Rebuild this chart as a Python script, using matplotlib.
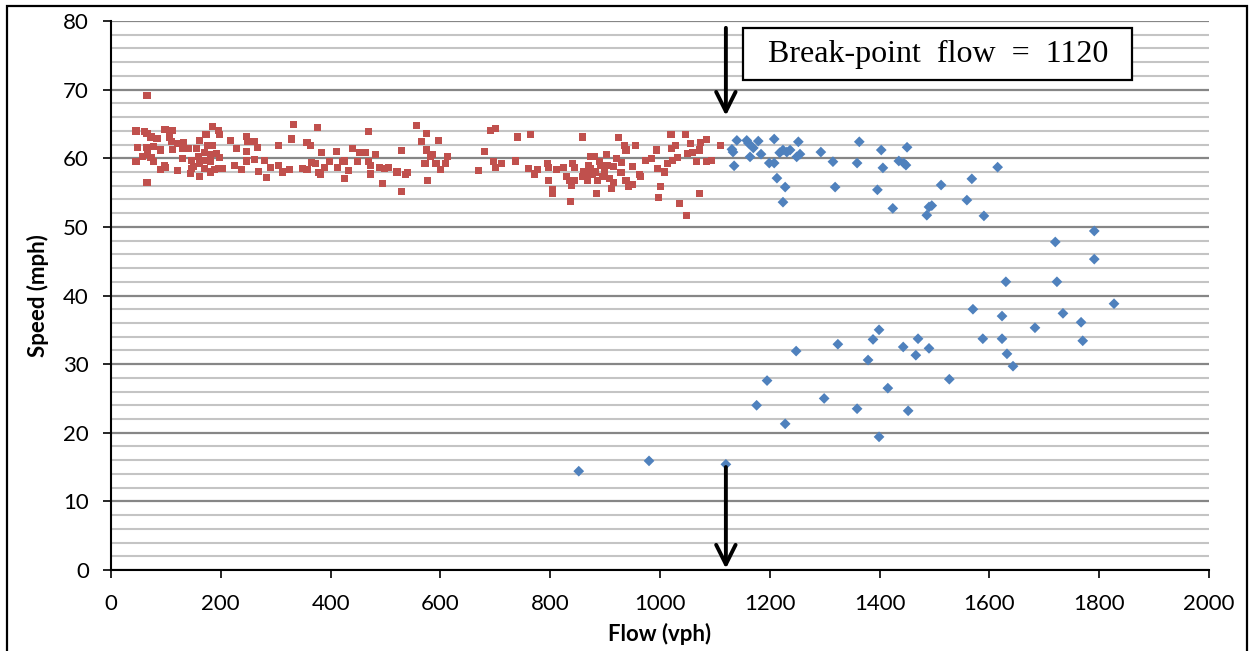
import matplotlib
matplotlib.use("Agg")
import matplotlib.pyplot as plt
from matplotlib.patches import Rectangle

# Uncongested (red) observations: flow (vph), speed (mph)
red_flow = [65.6, 45.5, 60.7, 65.6, 72.8, 83.8, 98.3, 112, 106, 48.6, 65.6, 77.7, 91, 111, 112, 121, 132, 130,
            141, 155, 161, 173, 185, 195, 197, 176, 185, 45.5, 57.7, 66.8, 72.8, 77.7, 97, 90, 100, 121, 146, 146,
            144, 159, 161, 161, 170, 170, 181, 182, 182, 193, 197, 195, 203, 65.6, 217, 228, 246, 249, 246, 261,
            267, 246, 261, 279, 225, 237, 268, 284,
            291, 305, 305, 313, 325, 329, 333, 349, 357, 357, 364, 365, 373, 376, 378, 382, 384, 389, 398, 410,
            413, 422, 426, 425, 433, 440, 449, 452, 464, 469, 469, 472, 472, 481, 489, 498, 505, 494, 521, 529,
            529, 537, 540, 557, 565, 575, 575, 572, 577, 582,
            596, 586, 592, 601, 610, 613, 669, 680, 692, 701, 697, 701, 712, 737, 741, 764, 760, 772, 777,
            795, 797, 797, 805, 805, 812, 825, 829, 837, 841, 845, 835, 838, 844, 859, 859, 865, 868, 871,
            874, 880, 874, 877, 883, 886, 885, 892, 896, 899, 903, 908, 912, 916, 920, 924, 929, 935, 938, 938,
            942, 950, 950, 956, 962, 965, 974, 984, 993, 996, 997, 1001, 1009, 1013, 1020, 1021, 1023, 1029,
            1032, 1035, 1047, 1049, 1050, 1055, 1059, 1067, 1072, 1073, 1072, 1084, 1084, 1093, 1111,
            130, 150, 170, 188, 860, 870, 890, 905, 915, 930]
red_speed = [69.1, 63.97, 63.9, 63.6, 63.1, 62.9, 64.2, 64.0, 63.1, 61.6, 61.6, 61.7, 61.2, 62.4, 61.3, 62.2,
             62.3, 61.4, 61.4, 61.4, 62.6, 63.5, 64.6, 64.1, 63.4, 61.9, 61.9, 59.5, 60.2, 60.5, 60.1, 59.5,
             59.0, 58.4, 58.7, 58.2, 59.7, 58.5, 57.8, 60.3, 59.3, 57.4, 59.7, 58.5, 60.5, 59.5, 58.0, 60.7,
             60.1, 58.5, 58.5, 56.5, 62.6, 61.4, 63.2, 62.4, 61.0, 62.4, 61.5, 59.6, 59.8, 59.7, 58.9, 58.4,
             58.1, 57.2,
             58.7, 61.8, 59.0, 58.0, 58.4, 62.8, 64.9, 58.5, 62.3, 58.4, 61.8, 59.4, 59.2, 64.5, 57.9, 57.7,
             60.8, 58.7, 59.5, 61.0, 58.7, 59.5, 59.6, 57.1, 58.2, 61.4, 59.5, 60.8, 60.8, 63.9, 59.5, 59.0,
             57.7, 60.5, 58.7, 58.5, 58.7, 56.3, 58.0, 61.1, 55.1, 57.6, 57.9, 64.8, 62.4, 63.6, 61.2, 59.3,
             56.8, 60.3,
             62.6, 60.5, 59.3, 58.3, 59.3, 60.2, 58.2, 61.0, 64.1, 64.4, 59.5, 58.7, 59.2, 59.6, 63.1, 63.4,
             58.5, 57.7, 58.4, 59.2, 58.7, 56.8, 55.4, 54.9, 58.4, 58.7, 57.4, 53.7, 59.2, 58.7, 56.8, 56.1,
             56.8, 63.1, 57.3, 57.8, 56.8, 57.6,
             60.2, 60.3, 58.5, 57.6, 58.0, 56.8, 54.9, 58.9, 57.3, 58.0, 60.5, 57.1, 55.6, 58.8, 60.0, 63.0,
             57.9, 61.9, 61.2, 56.8, 55.9, 58.8, 56.2, 61.9, 57.6, 57.3, 59.7, 60.0, 61.2, 58.5, 54.3, 55.9,
             58.0, 59.3, 63.5, 61.4, 59.7, 61.9, 60.1, 53.4, 63.4, 51.7, 60.7, 62.1, 60.9, 59.5, 61.2, 62.3,
             54.9, 62.7, 59.5, 59.7, 61.8,
             60.0, 58.8, 60.8, 58.3, 58.0, 59.0, 59.5, 59.0, 56.5, 59.4]

# Congested / above break-point (blue) observations
blue_flow = [1140, 1158, 1161, 1179, 1208, 1131, 1133, 1170, 1164, 1184, 1135, 1199, 1208, 1213, 1228, 1224,
             1218, 1224, 1231, 1237, 1252, 1249, 1255, 1293, 1315, 1319, 1363, 1359, 1403, 1406, 1396, 1424,
             1435, 1448, 1450, 1444, 1512, 1490, 1495, 1486, 1559, 1568, 1590, 1615,
             1791, 1720, 1791, 1630, 1723, 1827, 1623, 1734, 1767, 1683, 1623, 1770, 1632, 1643,
             852, 980, 1120, 1176, 1195, 1228, 1248, 1299, 1324, 1359, 1379, 1388, 1399, 1399, 1415, 1443,
             1452, 1470, 1466, 1490, 1527, 1570, 1588]
blue_speed = [62.6, 62.6, 62.2, 62.5, 62.8, 61.3, 60.9, 61.5, 60.2, 60.6, 58.9, 59.3, 59.3, 57.1, 55.8, 53.6,
              60.8, 61.2, 60.9, 61.2, 62.4, 60.2, 60.6, 60.9, 59.5, 55.8, 62.4, 59.3, 61.2, 58.6, 55.4, 52.7,
              59.6, 59.0, 61.6, 59.3, 56.1, 52.9, 53.1, 51.7, 53.9, 57.0, 51.6, 58.7,
              49.4, 47.8, 45.3, 42.0, 42.0, 38.8, 37.0, 37.4, 36.1, 35.3, 33.7, 33.4, 31.5, 29.7,
              14.4, 15.9, 15.4, 24.0, 27.6, 21.3, 31.9, 25.0, 32.9, 23.5, 30.6, 33.6, 35.0, 19.4, 26.5, 32.5,
              23.2, 33.7, 31.3, 32.3, 27.8, 38.0, 33.7]

x_ticks = [0, 200, 400, 600, 800, 1000, 1200, 1400, 1600, 1800, 2000]
y_ticks = [0, 10, 20, 30, 40, 50, 60, 70, 80]
break_point = 1120
label_text = "Break-point  flow  =  1120"

RED = "#C0504D"
BLUE = "#4F81BD"
SANS = ["Lato", "DejaVu Sans"]

fig = plt.figure(figsize=(12.53, 6.51), dpi=100)
ax = fig.add_axes([111 / 1253, 81 / 651, 1098 / 1253, 549 / 651])

ax.set_xlim(0, 2000)
ax.set_ylim(0, 80)
ax.set_yticks(y_ticks)
ax.set_yticks(range(0, 81, 2), minor=True)
ax.set_xticks(x_ticks)
ax.grid(axis="y", which="minor", color="#C4C4C4", linewidth=1.5, zorder=0)
ax.grid(axis="y", which="major", color="#868686", linewidth=1.6, zorder=0)
ax.tick_params(axis="y", which="minor", length=0)
ax.tick_params(axis="both", which="major", direction="out", length=6, width=1.2,
               labelsize=16, colors="black")
ax.tick_params(axis="y", pad=10)
ax.tick_params(axis="x", pad=11)
for s in ("top", "right"):
    ax.spines[s].set_visible(False)
for s in ("left", "bottom"):
    ax.spines[s].set_linewidth(1.5)
    ax.spines[s].set_color("black")
for lab in ax.get_xticklabels() + ax.get_yticklabels():
    lab.set_fontfamily(SANS)

ax.scatter(red_flow, red_speed, marker="s", s=26, color=RED, edgecolors="none", zorder=3)
ax.scatter(blue_flow, blue_speed, marker="D", s=30, color=BLUE, edgecolors="none", zorder=3)

ax.set_xlabel("Flow (vph)", fontsize=16, fontweight="bold", family=SANS)
ax.set_ylabel("Speed (mph)", fontsize=16, fontweight="bold", family=SANS)
ax.xaxis.set_label_coords((660 - 111) / 1098, (570 - 634) / 549)
ax.yaxis.set_label_coords((38 - 111) / 1098, 0.5)
ax.xaxis.label.set_va("center")
ax.yaxis.label.set_va("center")

# Arrows at break-point
arrow_kw = dict(arrowstyle="->,head_length=1.4,head_width=0.7", color="black", lw=2.8,
                shrinkA=0, shrinkB=0)
ax.annotate("", xy=(break_point, 66.2), xytext=(break_point, 79.0), arrowprops=arrow_kw,
            annotation_clip=False, zorder=5)
ax.annotate("", xy=(break_point, 0.2), xytext=(break_point, 15.0), arrowprops=arrow_kw,
            annotation_clip=False, zorder=5)

# Label box
ax.add_patch(Rectangle((1151, 71.4), 709, 7.6, facecolor="white", edgecolor="black",
                       linewidth=1.6, zorder=6, clip_on=False))
ax.text(1506, 75.1, label_text, ha="center", va="center", fontsize=23,
        family="Liberation Serif", zorder=7)

# Outer frame
fig.add_artist(Rectangle((7 / 1253, -0.02), 1240 / 1253, 0.02 + 645 / 651,
                         transform=fig.transFigure, fill=False, edgecolor="black", linewidth=1.6))

fig.savefig("out.png", dpi=100)
